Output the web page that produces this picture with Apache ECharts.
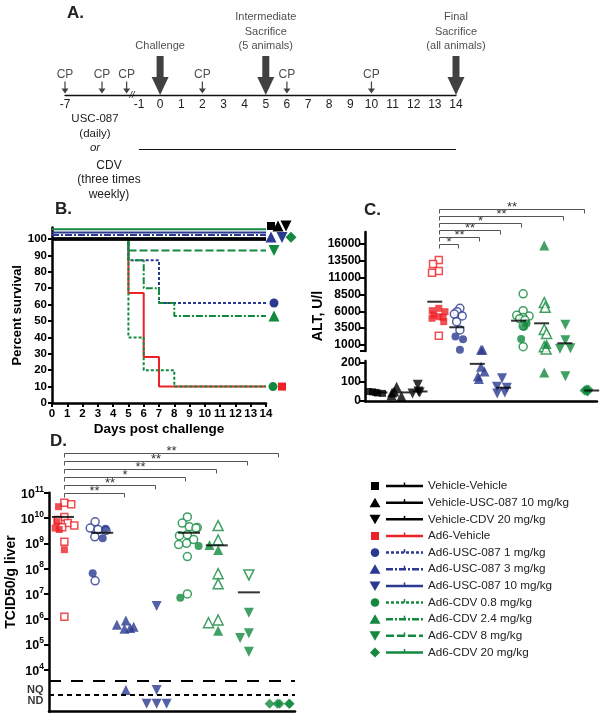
<!DOCTYPE html>
<html>
<head>
<meta charset="utf-8">
<script src="https://cdn.jsdelivr.net/npm/echarts@6.0.0/dist/echarts.min.js"></script>
<style>html,body{margin:0;padding:0;background:#fff;}#chart{width:602px;height:718px;}</style>
</head>
<body>
<div id="chart"></div>
<script>
const FONT = '"Liberation Sans", Arial, Helvetica, sans-serif';
const RED = '#ec2227', BLUE = '#2b3990', GREEN = '#12893f', BLACK = '#000';

// ---------------- Panel A: study timeline ----------------
const timelineLabels = [-7, -1, 0, 1, 2, 3, 4, 5, 6, 7, 8, 9, 10, 11, 12, 13, 14];
const cpDays = [-7, -4, -2, 2, 6, 10];
const eventDays = [0, 5, 14];
const eventTexts = ['Challenge', 'Intermediate\nSacrifice\n(5 animals)', 'Final\nSacrifice\n(all animals)'];
const dosingStart = -1, dosingEnd = 14;

// ---------------- Panel B: survival (day, percent) ----------------
const survVehVeh = [[0, 100], [14, 100]];
const survVehUSC = [[0, 100], [14, 100]];
const survVehCDV = [[0, 100], [14, 100]];
const survAd6Veh = [[0, 100], [5, 67], [6, 28], [7, 10], [14, 10]];
const survUSC1 = [[0, 100], [5, 87], [7, 61], [14, 61]];
const survUSC3 = [[0, 100], [14, 100]];
const survUSC10 = [[0, 100], [14, 100]];
const survCDV08 = [[0, 100], [5, 40], [6, 20], [8, 10], [14, 10]];
const survCDV24 = [[0, 100], [5, 87], [6, 70], [7, 61], [8, 53], [14, 53]];
const survCDV8 = [[0, 100], [5, 93], [14, 93]];
const survCDV20 = [[0, 100], [14, 100]];

// ---------------- Groups ----------------
const groupNames = ['Vehicle-Vehicle', 'Vehicle-USC-087 10 mg/kg', 'Vehicle-CDV 20 mg/kg', 'Ad6-Vehicle',
  'Ad6-USC-087 1 mg/kg', 'Ad6-USC-087 3 mg/kg', 'Ad6-USC-087 10 mg/kg', 'Ad6-CDV 0.8 mg/kg',
  'Ad6-CDV 2.4 mg/kg', 'Ad6-CDV 8 mg/kg', 'Ad6-CDV 20 mg/kg'];

// ---------------- Panel C: ALT, U/l ----------------
const altVehVeh = [45, 50, 40, 48, 42];
const altVehUSC = [75, 50, 45, 30, 25];
const altVehCDV = [85, 50, 45, 40];
const altAd6VehFilled = [6450, 6100, 5950, 5460, 5200, 5120, 4970, 4460];
const altAd6VehOpen = [13630, 13040, 12000, 11740, 2380];
const altUSC1Filled = [2240, 1850, 300];
const altUSC1Open = [6450, 5950, 5600, 5310, 4460, 3230];
const altUSC3 = [300, 300, 180, 155, 130, 115];
const altUSC10 = [120, 75, 70, 45, 40];
const altCDV08Filled = [4200, 3700, 1900];
const altCDV08Open = [8600, 6100, 5400, 5300, 5100, 4900, 4700, 3800, 750];
const altCDV24Filled = [15800, 1150, 150];
const altCDV24Open = [7300, 6600, 3300, 2700, 750, 400];
const altCDV8 = [4000, 1700, 500, 450, 130];
const altCDV20 = [60, 55, 50, 60, 55];
const altMeans = [45, 45, 50, 7430, 3630, 195, 70, 4610, 4220, 1250, 55];
const altTicksUpper = [1000, 3500, 6000, 8500, 11000, 13500, 16000];
const altTicksLower = [0, 100, 200];
const altSigTargets = [4, 5, 6, 7, 9, 10];
const altSigStars = ['*', '**', '**', '*', '**', '**'];

// ---------------- Panel D: TCID50/g liver ----------------
const virusGroups = ['Ad6-Vehicle', 'Ad6-USC-087 1 mg/kg', 'Ad6-USC-087 3 mg/kg', 'Ad6-USC-087 10 mg/kg',
  'Ad6-CDV 0.8 mg/kg', 'Ad6-CDV 2.4 mg/kg', 'Ad6-CDV 8 mg/kg', 'Ad6-CDV 20 mg/kg'];
const tcAd6VehOpen = [4.0e10, 3.5e10, 1.1e10, 8.3e9, 6.3e9, 5.0e9, 4.3e9, 1.15e9, 1.26e6];
const tcAd6VehFilled = [2.8e10, 7.1e9, 4.0e9, 3.5e9, 5.6e8];
const tcUSC1Open = [7.1e9, 4.0e9, 3.5e9, 3.2e9, 1.8e9, 3.3e7];
const tcUSC1Filled = [3.8e9, 1.6e9, 6.6e7];
const tcUSC3 = [8.9e5, 6.0e5, 5.0e5, 4.5e5, 4.2e5, 1600];
const tcUSC10 = [3.3e6, 1600, 450, 450, 450];
const tcCDV08Open = [1.1e10, 6.3e9, 4.5e9, 4.2e9, 4.0e9, 2.2e9, 2.0e9, 1.4e9, 1.0e9, 8.9e8, 3.0e8, 1.0e7];
const tcCDV08Filled = [7.9e8, 7.1e6];
const tcCDV24Open = [5.0e9, 1.35e9, 6.3e7, 2.5e7, 9.3e5, 7.2e5];
const tcCDV24Filled = [8.5e8, 5.4e8, 3.5e5];
const tcCDV8Open = [5.6e7];
const tcCDV8Filled = [1.8e6, 2.8e5, 1.8e5, 5.2e4];
const tcCDV20 = [450, 450, 450, 450, 450];
const tcMeans = [1.1e10, 2.6e9, null, null, 2.6e9, 8.3e8, 1.15e7, null];
const tcTicks = [1e4, 1e5, 1e6, 1e7, 1e8, 1e9, 1e10, 1e11];
const tcNQ = 3800, tcND = 1000;          // detection thresholds (dashed lines)
const tcLimitLabels = ['NQ', 'ND'];
const tcLimitLabelValues = [1580, 600];
const tcSigTargets = [2, 3, 4, 5, 6, 7];
const tcSigStars = ['**', '**', '*', '**', '**', '**'];

// ---------------- Styles ----------------
const groupStyle = [
  { color: BLACK, symbol: 'rect', rot: 0, dash: 'solid' },
  { color: BLACK, symbol: 'triangle', rot: 0, dash: 'solid' },
  { color: BLACK, symbol: 'triangle', rot: 180, dash: 'solid' },
  { color: RED, symbol: 'rect', rot: 0, dash: 'solid' },
  { color: BLUE, symbol: 'circle', rot: 0, dash: [3, 2] },
  { color: BLUE, symbol: 'triangle', rot: 0, dash: [7, 2, 2, 2] },
  { color: BLUE, symbol: 'triangle', rot: 180, dash: 'solid' },
  { color: GREEN, symbol: 'circle', rot: 0, dash: [3, 2] },
  { color: GREEN, symbol: 'triangle', rot: 0, dash: [7, 2, 2, 2] },
  { color: GREEN, symbol: 'triangle', rot: 180, dash: [8, 3] },
  { color: GREEN, symbol: 'diamond', rot: 0, dash: 'solid' }
];
const symSize = { rect: 7, circle: 8, triangle: 10, diamond: 10 };

const preDoseScale = 0.5833;
function dispDay(d) { return d >= -1 ? d : -1 + (d + 1) * preDoseScale; }
function realDay(v) { return v >= -1 ? Math.round(v) : Math.round(-1 + (v + 1) / preDoseScale); }

const series = [];

// ---- Panel A ----
const bigArrow = 'path://M5,0L12,0L12,21L17,21L8.5,39L0,21L5,21Z';
const smallArrow = 'path://M2.9,0L4.1,0L4.1,7L7,7L3.5,12L0,7L2.9,7Z';
series.push({
  type: 'scatter', xAxisIndex: 0, yAxisIndex: 0, silent: true,
  data: cpDays.map(d => [dispDay(d), 0]),
  symbol: smallArrow, symbolSize: [7, 12], symbolOffset: [0, -7.5],
  itemStyle: { color: '#111' },
  label: { show: true, position: 'top', distance: 1, formatter: 'CP', fontFamily: FONT, fontSize: 12, color: '#222' }
});
series.push({
  type: 'scatter', xAxisIndex: 0, yAxisIndex: 0, silent: true,
  data: eventDays.map((d, i) => ({ value: [dispDay(d), 0], label: { formatter: eventTexts[i] } })),
  symbol: bigArrow, symbolSize: [17, 39], symbolOffset: [0, -19.5],
  itemStyle: { color: '#111' },
  label: { show: true, position: 'top', distance: 3, fontFamily: FONT, fontSize: 11, lineHeight: 14.3, color: '#222', align: 'center' }
});
// dosing-period arrow
series.push({
  type: 'line', xAxisIndex: 5, yAxisIndex: 5, silent: true, symbol: 'none', data: [],
  markLine: {
    silent: true, symbol: ['none', 'arrow'], symbolSize: [0, 9],
    lineStyle: { color: '#111', width: 1, type: 'solid' }, label: { show: false },
    data: [[{ coord: [dispDay(dosingStart), 0] }, { coord: [dispDay(dosingEnd), 0] }]]
  }
});

// ---- Panel B ----
const survCfg = [
  { d: survAd6Veh, g: 3, w: 2, off: [16, 0], shift: 0 },
  { d: survUSC1, g: 4, w: 2, off: [8, 0], shift: 0 },
  { d: survCDV08, g: 7, w: 2, off: [7, 0], shift: 0 },
  { d: survCDV24, g: 8, w: 2, off: [8, 0], shift: 0 },
  { d: survCDV8, g: 9, w: 2, off: [8, 0], shift: 0 },
  { d: survVehVeh, g: 0, w: 3, off: [5, -13], shift: 0 },
  { d: survVehUSC, g: 1, w: 3, off: [12, -13], shift: 0 },
  { d: survVehCDV, g: 2, w: 3, off: [20, -13], shift: 0 },
  { d: survUSC3, g: 5, w: 2, off: [5, 2], shift: 2.5 },
  { d: survUSC10, g: 6, w: 2, off: [16, 5], shift: 4 },
  { d: survCDV20, g: 10, w: 2, off: [25, 8], shift: 6 }
];
survCfg.forEach(c => {
  const st = groupStyle[c.g];
  const n = c.d.length;
  series.push({
    type: 'line', name: groupNames[c.g], xAxisIndex: 1, yAxisIndex: 1, step: 'end', silent: true,
    symbol: 'none', animation: false,
    lineStyle: { color: st.color, width: c.w, type: st.dash },
    itemStyle: { color: st.color },
    data: c.d.map((p, i) => i === n - 1
      ? { value: [p[0], p[1] + c.shift], symbol: st.symbol, symbolSize: symSize[st.symbol] + 1, symbolRotate: st.rot, symbolOffset: c.off }
      : [p[0], p[1] + c.shift])
  });
});

// ---- Panel C ----
const CUT = 200;
function altPoints(values, g, open) {
  const st = groupStyle[g];
  const common = {
    type: 'scatter', silent: true, symbol: st.symbol, symbolRotate: st.rot,
    symbolSize: symSize[st.symbol],
    itemStyle: open ? { color: '#fff', borderColor: st.color, borderWidth: 1.5 } : { color: st.color }
  };
  const up = values.filter(v => v > CUT).map(v => [g, v]);
  const lo = values.filter(v => v <= CUT).map(v => [g, v]);
  if (up.length) series.push(Object.assign({}, common, { xAxisIndex: 2, yAxisIndex: 2, data: up }));
  if (lo.length) series.push(Object.assign({}, common, { xAxisIndex: 3, yAxisIndex: 3, data: lo }));
}
altPoints(altVehVeh, 0, false);
altPoints(altVehUSC, 1, false);
altPoints(altVehCDV, 2, false);
altPoints(altAd6VehOpen, 3, true);
altPoints(altAd6VehFilled, 3, false);
altPoints(altUSC1Open, 4, true);
altPoints(altUSC1Filled, 4, false);
altPoints(altUSC3, 5, false);
altPoints(altUSC10, 6, false);
altPoints(altCDV08Open, 7, true);
altPoints(altCDV08Filled, 7, false);
altPoints(altCDV24Open, 8, true);
altPoints(altCDV24Filled, 8, false);
altPoints(altCDV8, 9, false);
altPoints(altCDV20, 10, false);
const meanUp = [], meanLo = [];
altMeans.forEach((m, g) => (m > CUT ? meanUp : meanLo).push([g, m]));
series.push({ type: 'scatter', silent: true, xAxisIndex: 2, yAxisIndex: 2, data: meanUp, symbol: 'rect', symbolSize: [15, 2], itemStyle: { color: '#000' }, z: 4 });
series.push({ type: 'scatter', silent: true, xAxisIndex: 3, yAxisIndex: 3, data: meanLo, symbol: 'rect', symbolSize: [15, 2], itemStyle: { color: '#000' }, z: 4 });

function bracketSeries(xi, yi, fromIdx, targets, stars, topVal, baseOff, step) {
  return {
    type: 'custom', xAxisIndex: xi, yAxisIndex: yi, silent: true, clip: false, z: 6,
    data: targets.map((t, i) => [fromIdx, t, topVal, i]),
    encode: { x: [0, 1], y: 2 },
    renderItem(params, api) {
      const p1 = api.coord([api.value(0), api.value(2)]);
      const p2 = api.coord([api.value(1), api.value(2)]);
      const y = Math.round(p1[1] + baseOff - api.value(3) * step) + 0.5;
      const x1 = Math.round(p1[0]) + 0.5, x2 = Math.round(p2[0]) - 1.5;
      return {
        type: 'group', children: [
          { type: 'polyline', shape: { points: [[x1, y + 4], [x1, y], [x2, y], [x2, y + 4]] }, style: { stroke: '#555', lineWidth: 1, fill: null } },
          { type: 'text', style: { text: stars[params.dataIndex], x: (x1 + x2) / 2, y: y - 2, align: 'center', verticalAlign: 'middle', fontSize: 13, fontFamily: FONT, fill: '#333' } }
        ]
      };
    }
  };
}
series.push(bracketSeries(2, 2, 3, altSigTargets, altSigStars, 17800, 12, 7));

// ---- Panel D ----
function tcPoints(values, g, open) {
  const st = groupStyle[g];
  series.push({
    type: 'scatter', silent: true, xAxisIndex: 4, yAxisIndex: 4,
    symbol: st.symbol, symbolRotate: st.rot, symbolSize: symSize[st.symbol],
    itemStyle: open ? { color: '#fff', borderColor: st.color, borderWidth: 1.5 } : { color: st.color },
    data: values.map(v => [virusGroups.indexOf(groupNames[g]), v])
  });
}
tcPoints(tcAd6VehOpen, 3, true);
tcPoints(tcAd6VehFilled, 3, false);
tcPoints(tcUSC1Open, 4, true);
tcPoints(tcUSC1Filled, 4, false);
tcPoints(tcUSC3, 5, false);
tcPoints(tcUSC10, 6, false);
tcPoints(tcCDV08Open, 7, true);
tcPoints(tcCDV08Filled, 7, false);
tcPoints(tcCDV24Open, 8, true);
tcPoints(tcCDV24Filled, 8, false);
tcPoints(tcCDV8Open, 9, true);
tcPoints(tcCDV8Filled, 9, false);
tcPoints(tcCDV20, 10, false);
series.push({
  type: 'scatter', silent: true, xAxisIndex: 4, yAxisIndex: 4, z: 4,
  data: tcMeans.map((m, i) => m == null ? null : [i, m]).filter(Boolean),
  symbol: 'rect', symbolSize: [22, 2], itemStyle: { color: '#000' },
  markLine: {
    silent: true, symbol: 'none', label: { show: false },
    data: [
      { yAxis: tcNQ, lineStyle: { color: '#000', width: 2, type: [12, 10] } },
      { yAxis: tcND, lineStyle: { color: '#000', width: 2, type: [5, 4] } }
    ]
  }
});
// NQ / ND limit labels beside the y axis (no own jitter: separate hidden axis not needed, anchor is tiny)
series.push({
  type: 'scatter', silent: true, xAxisIndex: 6, yAxisIndex: 4, symbol: 'circle', symbolSize: 1,
  itemStyle: { color: 'rgba(0,0,0,0)' },
  data: tcLimitLabelValues.map((v, i) => ({ value: [0, v], label: { formatter: tcLimitLabels[i] } })),
  label: { show: true, position: 'left', distance: 5, fontFamily: FONT, fontWeight: 'bold', fontSize: 11, color: '#000' }
});
series.push(bracketSeries(4, 4, 0, tcSigTargets, tcSigStars, 1e11, 0.6, 8));

// ---------------- Axes ----------------
const boldLab = { fontFamily: FONT, fontWeight: 'bold', color: '#000' };
const thickLine = { show: true, lineStyle: { color: '#000', width: 2.5 } };

const option = {
  animation: false,
  backgroundColor: '#fff',
  textStyle: { fontFamily: FONT },
  grid: [
    { left: 65, top: 10, width: 391, height: 85 },
    { left: 52, top: 227.5, width: 214, height: 175.5 },
    { left: 365, top: 232, width: 232, height: 119 },
    { left: 365, top: 361, width: 232, height: 40 },
    { left: 49, top: 492.7, width: 246, height: 219 },
    { left: 65, top: 139, width: 391, height: 20 }
  ],
  xAxis: [
    {
      gridIndex: 0, type: 'value', min: dispDay(-7), max: 14,
      axisLine: { lineStyle: { color: '#111', width: 1.3 } },
      axisTick: { show: false }, splitLine: { show: false },
      axisLabel: { customValues: timelineLabels.map(dispDay), formatter: v => String(realDay(v)), fontFamily: FONT, fontSize: 12, color: '#222', margin: 4 }
    },
    {
      gridIndex: 1, type: 'value', min: 0, max: 14, interval: 1,
      axisLine: thickLine, splitLine: { show: false },
      axisTick: { show: true, length: 4, lineStyle: { width: 2, color: '#000' } },
      axisLabel: Object.assign({ fontSize: 11.5, margin: 5 }, boldLab),
      name: 'Days post challenge', nameLocation: 'middle', nameGap: 19,
      nameTextStyle: Object.assign({ fontSize: 13.5 }, boldLab)
    },
    { gridIndex: 2, type: 'category', data: groupNames, show: false, jitter: 18, jitterOverlap: false, jitterMargin: 0 },
    {
      gridIndex: 3, type: 'category', data: groupNames, jitter: 18, jitterOverlap: false, jitterMargin: 0,
      axisLine: thickLine, axisTick: { show: false }, axisLabel: { show: false }
    },
    {
      gridIndex: 4, type: 'category', data: virusGroups, jitter: 26, jitterOverlap: false, jitterMargin: 0,
      axisLine: thickLine, axisTick: { show: false }, axisLabel: { show: false }
    },
    { gridIndex: 5, type: 'value', min: dispDay(-7), max: 14, show: false },
    { gridIndex: 4, type: 'value', min: 0, max: 1, show: false }
  ],
  yAxis: [
    { gridIndex: 0, type: 'value', min: 0, max: 1, show: false },
    {
      gridIndex: 1, type: 'value', min: 0, max: 107,
      axisLine: thickLine, splitLine: { show: false },
      axisTick: { show: true, length: 4, lineStyle: { width: 2, color: '#000' }, customValues: [0, 10, 20, 30, 40, 50, 60, 70, 80, 90, 100] },
      axisLabel: Object.assign({ fontSize: 11.5, margin: 5, customValues: [0, 10, 20, 30, 40, 50, 60, 70, 80, 90, 100] }, boldLab),
      name: 'Percent survival', nameLocation: 'middle', nameRotate: 90, nameGap: 26,
      nameTextStyle: Object.assign({ fontSize: 13 }, boldLab)
    },
    {
      gridIndex: 2, type: 'value', min: 100, max: 17800,
      axisLine: thickLine, splitLine: { show: false },
      axisTick: { show: true, length: 5, lineStyle: { width: 2, color: '#000' }, customValues: altTicksUpper },
      axisLabel: Object.assign({ fontSize: 12, margin: 4, customValues: altTicksUpper, formatter: v => String(v) }, boldLab)
    },
    {
      gridIndex: 3, type: 'value', min: 0, max: 210,
      axisLine: thickLine, splitLine: { show: false },
      axisTick: { show: true, length: 5, lineStyle: { width: 2, color: '#000' }, customValues: altTicksLower },
      axisLabel: Object.assign({ fontSize: 12, margin: 4, customValues: altTicksLower, formatter: v => String(v) }, boldLab)
    },
    {
      gridIndex: 4, type: 'log', logBase: 10, min: 220, max: 1e11,
      axisLine: thickLine, splitLine: { show: false },
      axisTick: { show: true, length: 5, lineStyle: { width: 2, color: '#000' }, customValues: tcTicks },
      axisLabel: {
        customValues: tcTicks, margin: 5,
        formatter: v => '{b|10}{s|' + Math.round(Math.log10(v)) + '}',
        rich: {
          b: { fontFamily: FONT, fontWeight: 'bold', fontSize: 12.5, color: '#000', lineHeight: 16, verticalAlign: 'bottom' },
          s: { fontFamily: FONT, fontWeight: 'bold', fontSize: 8.5, color: '#000', lineHeight: 16, verticalAlign: 'top' }
        }
      }
    },
    { gridIndex: 5, type: 'value', min: -1, max: 1, show: false }
  ],
  series: series,
  graphic: []
};

// ---------------- Graphic: panel letters, texts, legend ----------------
const G = option.graphic;
const letter = (t, x, y) => G.push({ type: 'text', x, y, style: { text: t, fontFamily: FONT, fontWeight: 'bold', fontSize: 17, fill: '#222', verticalAlign: 'middle' } });
letter('A.', 67, 13);
letter('B.', 55, 209);
letter('C.', 364, 210);
letter('D.', 50, 441);

G.push({ type: 'text', x: 132, y: 95, style: { text: '//', fontFamily: FONT, fontSize: 9, fontStyle: 'italic', fill: '#111', align: 'center', verticalAlign: 'middle' } });
G.push({ type: 'text', x: 95, y: 112, style: {
  text: 'USC-087\n(daily)\n{i|or}', fontFamily: FONT, fontSize: 11.5, lineHeight: 14.5, fill: '#222', align: 'center', verticalAlign: 'top',
  rich: { i: { fontStyle: 'italic', fontFamily: FONT, fontSize: 11.5, lineHeight: 14.5 } }
} });
G.push({ type: 'text', x: 109, y: 158, style: { text: 'CDV\n(three times\nweekly)', fontFamily: FONT, fontSize: 12, lineHeight: 14.5, fill: '#222', align: 'center', verticalAlign: 'top' } });

G.push({ type: 'text', x: 318, y: 316, rotation: Math.PI / 2, style: { text: 'ALT, U/l', fontFamily: FONT, fontWeight: 'bold', fontSize: 14, fill: '#000', align: 'center', verticalAlign: 'middle' } });
G.push({ type: 'text', x: 11, y: 582, rotation: Math.PI / 2, style: { text: 'TCID50/g liver', fontFamily: FONT, fontWeight: 'bold', fontSize: 14, fill: '#000', align: 'center', verticalAlign: 'middle' } });
// axis-break cap on panel C
G.push({ type: 'line', shape: { x1: 360, y1: 351, x2: 366, y2: 351 }, style: { stroke: '#000', lineWidth: 2 } });

// legend
const LX = 375, LY0 = 486, LDY = 16.65;
function legendMarker(sym, rot, x, y, color) {
  if (sym === 'rect') return { type: 'rect', shape: { x: x - 4, y: y - 4, width: 8, height: 8 }, style: { fill: color } };
  if (sym === 'circle') return { type: 'circle', shape: { cx: x, cy: y, r: 4.3 }, style: { fill: color } };
  if (sym === 'diamond') return { type: 'polygon', shape: { points: [[x, y - 5], [x + 5, y], [x, y + 5], [x - 5, y]] }, style: { fill: color } };
  const pts = rot ? [[x - 5.5, y - 4.5], [x + 5.5, y - 4.5], [x, y + 5]] : [[x - 5.5, y + 4.5], [x + 5.5, y + 4.5], [x, y - 5]];
  return { type: 'polygon', shape: { points: pts }, style: { fill: color } };
}
groupNames.forEach((name, i) => {
  const st = groupStyle[i];
  const y = LY0 + i * LDY;
  G.push(legendMarker(st.symbol, st.rot, LX, y, st.color));
  G.push({ type: 'line', shape: { x1: 386, y1: y, x2: 423, y2: y }, style: { stroke: st.color, lineWidth: 2.5, lineDash: st.dash === 'solid' ? null : st.dash } });
  G.push({ type: 'line', shape: { x1: 404.5, y1: y - 3.5, x2: 404.5, y2: y }, style: { stroke: st.color, lineWidth: 1.5 } });
  G.push({ type: 'text', x: 428, y: y, style: { text: name, fontFamily: FONT, fontSize: 11.7, fill: '#222', verticalAlign: 'middle' } });
});

const chart = echarts.init(document.getElementById('chart'));
chart.setOption(option);
</script>
</body>
</html>
